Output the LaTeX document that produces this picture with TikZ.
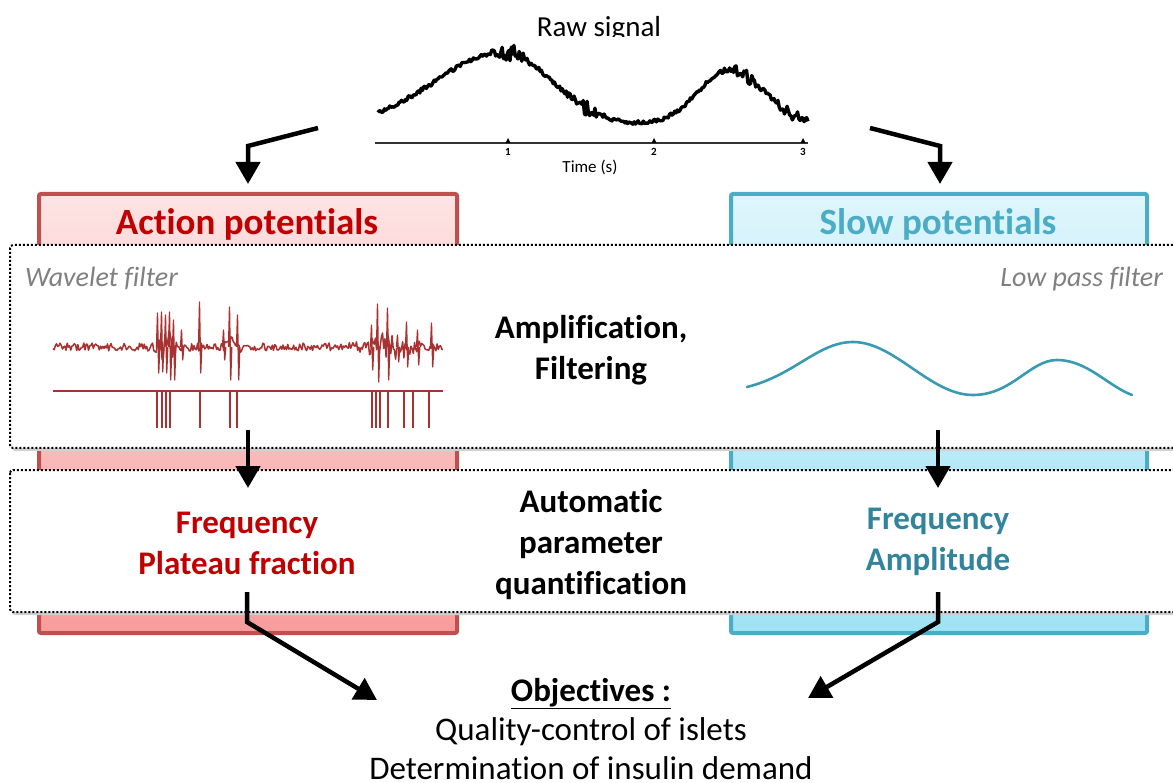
\documentclass[tikz,border=0pt]{standalone}
\usepackage{fontspec}
\setmainfont{Carlito}[Ligatures=CommonOff]
\usetikzlibrary{arrows.meta}
\definecolor{apred}{HTML}{C00000}
\definecolor{apborder}{HTML}{C0504D}
\definecolor{aptop}{HTML}{FDE4E4}
\definecolor{apbot}{HTML}{F89C9C}
\definecolor{spborder}{HTML}{4BACC6}
\definecolor{sptitle}{HTML}{4BACC6}
\definecolor{sptext}{HTML}{31849B}
\definecolor{sptop}{HTML}{DEF5FC}
\definecolor{spbot}{HTML}{A0E2F5}
\definecolor{tracered}{HTML}{A83232}
\definecolor{traceblue}{HTML}{3A9AB2}
\definecolor{filtgray}{HTML}{808080}
\begin{document}
\begin{tikzpicture}[x=1pt,y=-1pt,
  every node/.style={inner sep=0pt, outer sep=0pt},
  titlefont/.style={font=\fontsize{37}{44}\selectfont\bfseries},
  lblfont/.style={font=\fontsize{33}{41}\selectfont\bfseries, align=center},
  filtfont/.style={font=\fontsize{28}{34}\selectfont\itshape, text=filtgray},
  bodyfont/.style={font=\fontsize{33}{39}\selectfont, align=center},
  apbox/.style={draw=apborder, line width=4pt, rounded corners=2pt, top color=aptop, bottom color=apbot},
  spbox/.style={draw=spborder, line width=4pt, rounded corners=2pt, top color=sptop, bottom color=spbot},
  stagebox/.style={draw=black, fill=white, line width=2pt, dash pattern=on 2pt off 2pt, rounded corners=3pt},
  stageshadow/.style={fill=black!18, rounded corners=3pt},
  flow/.style={line width=4.5pt, -{Triangle[width=24pt,length=22pt]}},
]
\useasboundingbox (0,0) rectangle (1173,783);
\fill[white] (0,0) rectangle (1173,783);

% raw signal title (clipped by the signal picture)
\node[font=\fontsize{29}{34}\selectfont, anchor=base] (rawtitle) at (599,37) {Raw signal};
\fill[white] (368,37) rectangle (815,180);

% raw signal trace
\pgfmathsetseed{7}
\draw[line width=3.4pt, line join=round, black]
  plot[domain=378:808, samples=330]
  (\x, {125 - 73*exp(-((\x-503)/((\x<503)?95:69))^2) - 55*exp(-((\x-730)/((\x<730)?45:49))^2)
        + rand*(2 + 7*exp(-((\x-510)/14)^2) + 6*exp(-((\x-585)/12)^2) + 6*exp(-((\x-742)/14)^2) + 4*exp(-((\x-790)/14)^2))});
% time axis
\draw[line width=1.5pt, black!80] (375,143) -- (808,143);
\foreach \t/\xx in {1/508, 2/654, 3/803}{
  \fill[black] (\xx-2.5,143) -- (\xx,138) -- (\xx+2.5,143) -- cycle;
  \node[font=\fontsize{11}{12}\selectfont\bfseries, anchor=base] (tick\t) at (\xx,156) {\t};
}
\node[font=\fontsize{17}{20}\selectfont, anchor=base] (timelbl) at (590,173) {Time (s)};

% coloured column boxes
\draw[apbox] (39,194) rectangle (457,633);
\draw[spbox] (731,194) rectangle (1147,633);
\node[titlefont, text=apred, anchor=base] (aptitle) at (247,235) {Action potentials};
\node[titlefont, text=sptitle, anchor=base] (sptitle) at (938,235) {Slow potentials};

% stage boxes
\fill[stageshadow] (12,248) rectangle (1195,451);
\draw[stagebox] (10,245) rectangle (1190,448);
\fill[stageshadow] (12,473) rectangle (1195,615);
\draw[stagebox] (10,470) rectangle (1190,612);

% stage 1 content
\node[filtfont, anchor=base west] (wavelet) at (25,287) {Wavelet filter};
\node[filtfont, anchor=base east] (lowpass) at (1163,287) {Low pass filter};
\node[lblfont] (amp) at (591,350) {Amplification,\\Filtering};

% action potential trace
\pgfmathsetseed{3}
\draw[tracered, line width=1.5pt, line join=round]
  plot[domain=53:443, samples=330]
  (\x, {347 + rand*(4 + 14*exp(-((\x-166)/9)^2) + 8*exp(-((\x-233)/8)^2) + 12*exp(-((\x-390)/22)^2))});
\foreach \sx/\st/\sb in {158/313/373, 162/312/372, 166/315/373, 170/312/380, 174/320/380, 182/330/360,
                          200/302/373, 230/307/380, 238/315/380, 224/330/360,
                          378/304/382, 388/308/380, 372/325/370, 407/322/367, 418/330/365, 432/323/367, 398/335/362}{
  \draw[tracered, line width=1.3pt, line join=round] (\sx-1.5,347) -- (\sx-0.5,\st) -- (\sx+0.7,\sb) -- (\sx+1.8,347);
}
% spike train
\draw[tracered, line width=1.6pt] (53,391) -- (443,391);
\foreach \tx in {157,162,166,170,200,230,237,372,376,380,388,404,413,429}{
  \draw[tracered, line width=1.6pt] (\tx,391) -- (\tx,428);
}

% slow potential trace
\draw[traceblue, line width=2.6pt, line cap=round]
  (747,387) .. controls (795,375) and (818,342) .. (853,342)
  .. controls (895,342) and (930,395) .. (973,395)
  .. controls (1012,395) and (1030,360) .. (1057,360)
  .. controls (1087,360) and (1108,386) .. (1132,395);

% stage 2 content
\node[lblfont] (auto) at (591,545) {Automatic\\parameter\\quantification};
\node[lblfont, text=apred] (apparams) at (247,543) {Frequency\\Plateau fraction};
\node[lblfont, text=sptext] (spparams) at (938,542) {Frequency\\Amplitude};

% objectives
\node[bodyfont] (obj) at (591,729) {\textbf{\underline{Objectives :}}\\Quality-control of islets\\Determination of insulin demand};

% connectors
\coordinate (rawL) at (318,128);
\coordinate (rawR) at (870,128);
\coordinate (apin) at (248,184);
\coordinate (spin) at (940,184);
\coordinate (apmidA) at (248,430);
\coordinate (apmidB) at (248,488);
\coordinate (spmidA) at (938,430);
\coordinate (spmidB) at (938,488);
\coordinate (apoutA) at (247,592);
\coordinate (spoutA) at (938,592);
\coordinate (objL) at (377,700);
\coordinate (objR) at (808,698);

\draw[flow] (rawL) -- (248,146) -- (apin);
\draw[flow] (rawR) -- (940,146) -- (spin);
\draw[flow] (apmidA) -- (apmidB);
\draw[flow] (spmidA) -- (spmidB);
\draw[flow] (apoutA) -- (247,622) -- (objL);
\draw[flow] (spoutA) -- (938,622) -- (objR);
\end{tikzpicture}
\end{document}
